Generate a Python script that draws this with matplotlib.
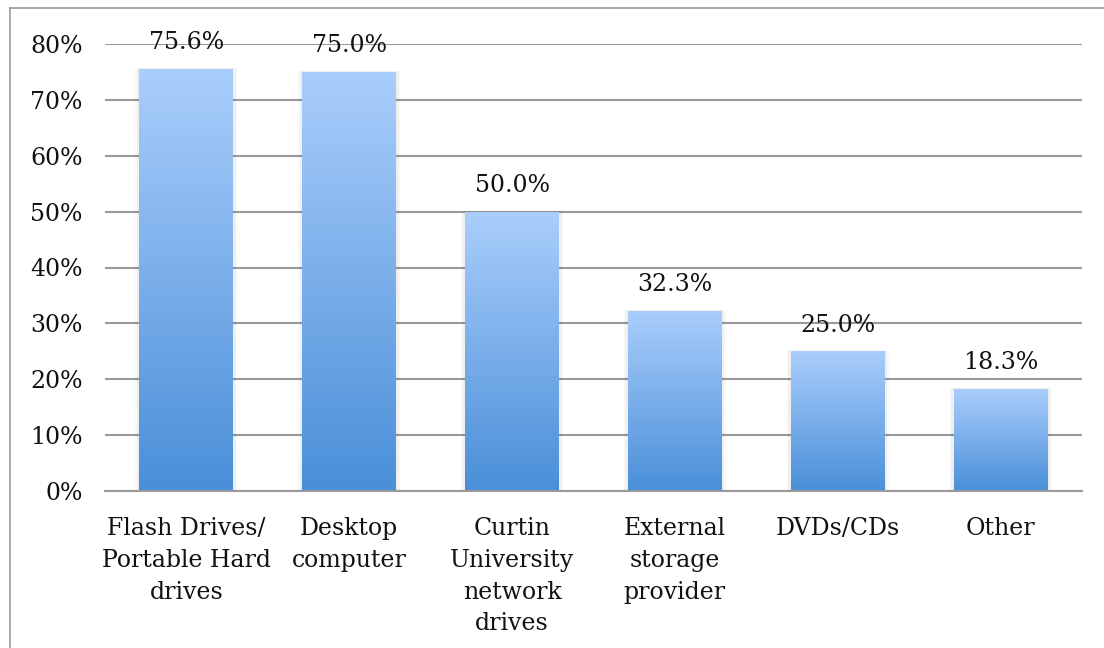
import matplotlib
matplotlib.use("Agg")
import matplotlib.pyplot as plt
import numpy as np
from matplotlib.colors import LinearSegmentedColormap
from matplotlib.lines import Line2D

categories = ["Flash Drives/\nPortable Hard\ndrives", "Desktop\ncomputer",
              "Curtin\nUniversity\nnetwork\ndrives", "External\nstorage\nprovider",
              "DVDs/CDs", "Other"]
values = [75.6, 75.0, 50.0, 32.3, 25.0, 18.3]
value_labels = ["75.6%", "75.0%", "50.0%", "32.3%", "25.0%", "18.3%"]
yticks = [0, 10, 20, 30, 40, 50, 60, 70, 80]
ytick_labels = ["0%", "10%", "20%", "30%", "40%", "50%", "60%", "70%", "80%"]

plt.rcParams['font.family'] = ['DejaVu Serif']
FS = 17

fig = plt.figure(figsize=(11.04, 6.48), dpi=100)
ax = fig.add_axes([105/1104, 1-491/648, (1082-105)/1104, (491-44)/648])

x = np.arange(len(categories))
width = 0.577
bars = ax.bar(x, values, width=width, color='none', edgecolor='none', zorder=3)

cmap = LinearSegmentedColormap.from_list("g", ["#4A8FD8", "#AACEFC"])
grad = np.linspace(0, 1, 256).reshape(-1, 1)
for b in bars:
    x0, y0 = b.get_x(), b.get_y()
    w, h = b.get_width(), b.get_height()
    # soft shadow
    for k, a in zip([0.05, 0.03], [0.025, 0.04]):
        ax.add_patch(plt.Rectangle((x0 - k*0.5, y0), w + k, h + k*3, color='black', alpha=a, zorder=2, lw=0))
    im = ax.imshow(grad, extent=[x0, x0 + w, y0, y0 + h], origin='lower', cmap=cmap,
                   aspect='auto', zorder=3)
    im.set_clip_path(b)

for xi, v, lab in zip(x, values, value_labels):
    ax.text(xi, v + 2.6, lab, ha='center', va='bottom', fontsize=FS, color='#111111', zorder=5)

ax.set_xlim(-0.5, len(categories) - 0.5)
ax.set_ylim(0, 80)
ax.set_yticks(yticks)
ax.set_yticklabels(ytick_labels, fontsize=FS)
ax.set_xticks(x)
ax.set_xticklabels(categories, fontsize=FS, linespacing=1.48, va='top')
ax.tick_params(axis='both', length=0, colors='#111111')
ax.tick_params(axis='y', pad=16)
ax.tick_params(axis='x', pad=19)
ax.yaxis.grid(True, color='#9a9a9a', linewidth=1.5, zorder=0)
ax.set_axisbelow(True)
for s in ['top', 'right', 'left']:
    ax.spines[s].set_visible(False)
ax.spines['bottom'].set_color('#9a9a9a')
ax.spines['bottom'].set_linewidth(1.5)
ax.spines['bottom'].set_zorder(4)

# outer frame
fig.add_artist(Line2D([10/1104, 10/1104], [0, 1-8/648], transform=fig.transFigure, color='#9a9a9a', lw=1.2))
fig.add_artist(Line2D([10/1104, 1], [1-8/648, 1-8/648], transform=fig.transFigure, color='#9a9a9a', lw=1.2))

fig.savefig("out.png", dpi=100)
